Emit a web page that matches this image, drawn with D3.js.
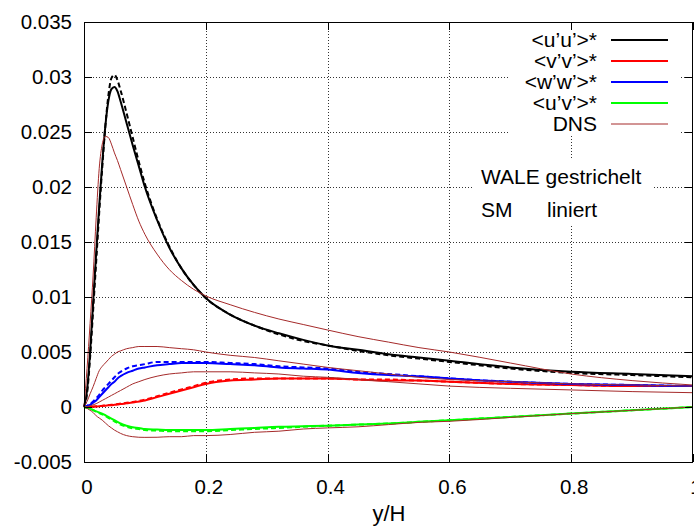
<!DOCTYPE html>
<html><head><meta charset="utf-8">
<script src="https://cdn.jsdelivr.net/npm/d3@7"></script>
<style>body{margin:0;background:#fff}svg{display:block}text{font-family:"Liberation Sans",Arial,sans-serif;fill:#000}</style>
</head><body><svg id="c" width="694" height="527"></svg>
<script>
const xs = [0,0.005,0.01,0.015,0.02,0.025,0.03,0.035,0.04,0.045,0.05,0.055,0.06,0.07,0.08,0.09,0.1,0.12,0.14,0.16,0.18,0.2,0.24,0.28,0.32,0.36,0.4,0.45,0.5,0.55,0.6,0.7,0.8,0.9,1.0];
const smUU = [0,0.0015,0.0050,0.0095,0.0140,0.0183,0.0222,0.0255,0.0278,0.0289,0.0291,0.0287,0.0278,0.0258,0.0238,0.0219,0.0200,0.0170,0.0145,0.0126,0.0111,0.0099,0.0084,0.0074,0.0067,0.0061,0.0056,0.0052,0.0048,0.0045,0.0042,0.0036,0.0032,0.0030,0.0028];
const waleUU = [0,0.0012,0.0045,0.0088,0.0132,0.0177,0.0218,0.0255,0.0283,0.0299,0.0302,0.0297,0.0288,0.0267,0.0245,0.0223,0.0203,0.0171,0.0146,0.0126,0.0111,0.0099,0.0084,0.0074,0.0066,0.0060,0.0056,0.0051,0.0047,0.0044,0.0041,0.0035,0.0031,0.0029,0.0027];
const dnsUU = [0,0.0035,0.0076,0.0120,0.0172,0.0217,0.0239,0.0246,0.0245,0.0239,0.0231,0.0224,0.0216,0.0200,0.0184,0.0169,0.0157,0.0139,0.0125,0.0115,0.0107,0.0101,0.0093,0.0086,0.0080,0.0075,0.0070,0.0064,0.0059,0.0054,0.0050,0.0040,0.0030,0.0024,0.0020];
const smVV = [0,0.00001,0.00002,0.00003,0.00005,0.00007,0.0001,0.00012,0.00015,0.00017,0.0002,0.00023,0.00027,0.00033,0.0004,0.0005,0.0006,0.0009,0.0012,0.0015,0.0018,0.0021,0.0024,0.0025,0.0026,0.0026,0.0026,0.0025,0.0024,0.0024,0.0023,0.0021,0.0020,0.0019,0.0019];
const waleVV = [0,0.00001,0.00002,0.00004,0.00006,0.00008,0.00011,0.00014,0.00017,0.0002,0.00023,0.00027,0.00031,0.00038,0.00046,0.00056,0.00067,0.00097,0.0013,0.0016,0.0019,0.0022,0.0025,0.0026,0.0026,0.0026,0.0026,0.0025,0.0025,0.0024,0.0023,0.0021,0.0020,0.0019,0.0019];
const dnsVV = [0,0.00003,0.0001,0.0002,0.0003,0.00045,0.0006,0.00075,0.0009,0.00105,0.0012,0.00135,0.0015,0.0018,0.0021,0.0023,0.0025,0.0028,0.0030,0.0031,0.0032,0.0032,0.0032,0.0031,0.0030,0.0028,0.0027,0.0025,0.0023,0.0021,0.0019,0.0017,0.00155,0.0014,0.0013];
const smWW = [0,0.0001,0.0002,0.0004,0.0006,0.0009,0.0012,0.0015,0.0018,0.0021,0.0023,0.0026,0.0028,0.0031,0.0033,0.0035,0.0036,0.0038,0.0039,0.0040,0.0040,0.0040,0.0039,0.0038,0.0036,0.0035,0.0034,0.0031,0.0029,0.0028,0.0026,0.0023,0.0021,0.0020,0.0019];
const waleWW = [0,0.0001,0.0003,0.0005,0.0008,0.0011,0.0015,0.0018,0.0021,0.0024,0.0027,0.0030,0.0032,0.0035,0.0037,0.0038,0.0039,0.0041,0.0041,0.0041,0.0041,0.0041,0.0040,0.0039,0.0037,0.0036,0.0035,0.0032,0.0030,0.0028,0.0026,0.0023,0.0021,0.0020,0.0019];
const dnsWW = [0,0.0005,0.0012,0.00185,0.0026,0.0033,0.0037,0.0040,0.0043,0.0046,0.0048,0.0050,0.0051,0.0053,0.0054,0.0055,0.0055,0.0055,0.0054,0.0053,0.0052,0.0050,0.0047,0.0045,0.0042,0.0039,0.0036,0.0033,0.0030,0.0027,0.0025,0.0023,0.0021,0.0020,0.0019];
const smUV = [0,-0.00007,-0.00015,-0.00027,-0.0004,-0.0005,-0.0006,-0.00075,-0.0009,-0.00105,-0.0012,-0.00135,-0.0015,-0.0017,-0.00185,-0.0019,-0.0020,-0.00205,-0.0021,-0.0021,-0.0021,-0.0021,-0.0020,-0.0019,-0.0018,-0.00175,-0.0017,-0.0016,-0.0015,-0.00135,-0.0012,-0.0009,-0.0006,-0.0003,0];
const waleUV = [0,-0.00007,-0.00016,-0.00029,-0.00043,-0.00055,-0.00067,-0.00082,-0.00098,-0.00114,-0.0013,-0.00145,-0.0016,-0.0018,-0.00195,-0.0020,-0.0021,-0.00215,-0.0022,-0.0022,-0.0022,-0.0022,-0.0021,-0.0020,-0.0019,-0.0018,-0.0017,-0.0016,-0.0015,-0.00135,-0.0012,-0.0009,-0.0006,-0.0003,0];
const dnsUV = [0,-0.00012,-0.0003,-0.0005,-0.0008,-0.001,-0.0012,-0.00145,-0.0017,-0.0019,-0.0021,-0.00225,-0.0024,-0.0026,-0.0027,-0.00275,-0.00276,-0.00275,-0.0027,-0.0027,-0.0026,-0.0026,-0.0025,-0.0023,-0.0022,-0.0020,-0.0019,-0.0018,-0.0016,-0.0014,-0.0013,-0.00095,-0.0006,-0.0003,0];

const xTicks = [0,0.2,0.4,0.6,0.8,1];
const xTickLabels = ["0","0.2","0.4","0.6","0.8","1"];
const yTicks = [-0.005,0,0.005,0.01,0.015,0.02,0.025,0.03,0.035];
const yTickLabels = ["-0.005","0","0.005","0.01","0.015","0.02","0.025","0.03","0.035"];
const legendLabels = ["<u\u2019u\u2019>*","<v\u2019v\u2019>*","<w\u2019w\u2019>*","<u\u2019v\u2019>*","DNS"];
const legendColors = ["#000000","#ff0000","#0000ff","#00ff00","#a52a2a"];
const xTitle = "y/H";

const svg = d3.select("#c");
const L=84, R=693, T=22, B=462;
const x = d3.scaleLinear().domain([0,1]).range([L,R]);
const y = d3.scaleLinear().domain([-0.005,0.035]).range([B,T]);

// grid
const g = svg.append("g");
g.selectAll(".gx").data(xTicks.slice(1,-1)).join("line")
  .attr("x1",d=>Math.round(x(d))+0.5).attr("x2",d=>Math.round(x(d))+0.5).attr("y1",T).attr("y2",B)
  .attr("stroke","#333").attr("stroke-width",1).attr("stroke-dasharray","1,2");
g.selectAll(".gy").data(yTicks.slice(1,-1)).join("line")
  .attr("y1",d=>Math.round(y(d))+0.5).attr("y2",d=>Math.round(y(d))+0.5).attr("x1",L).attr("x2",R)
  .attr("stroke","#333").attr("stroke-width",1).attr("stroke-dasharray","1,2");

// curves
const line = d3.line().x(d=>x(d[0])).y(d=>y(d[1])).curve(d3.curveMonotoneX);
const series = [
  {v:smUU,c:"#000000",w:2,dash:null},
  {v:waleUU,c:"#000000",w:2,dash:"5,3"},
  {v:smVV,c:"#ff0000",w:2,dash:null},
  {v:waleVV,c:"#ff0000",w:2,dash:"5,3"},
  {v:smWW,c:"#0000ff",w:2,dash:null},
  {v:waleWW,c:"#0000ff",w:2,dash:"5,3"},
  {v:smUV,c:"#00ff00",w:2,dash:null},
  {v:waleUV,c:"#00ff00",w:2,dash:"5,3"},
  {v:dnsUU,c:"#a52a2a",w:1,dash:null},
  {v:dnsVV,c:"#a52a2a",w:1,dash:null},
  {v:dnsWW,c:"#a52a2a",w:1,dash:null},
  {v:dnsUV,c:"#a52a2a",w:1,dash:null}
];
const cg = svg.append("g");
series.forEach(s=>{
  cg.append("path").datum(xs.map((xx,i)=>[xx,s.v[i]]))
    .attr("d",line).attr("fill","none").attr("stroke",s.c).attr("stroke-width",s.w)
    .attr("stroke-dasharray",s.dash).attr("stroke-linejoin","round");
});

// legend box (opaque)
svg.append("rect").attr("x",508).attr("y",T+1).attr("width",173).attr("height",111).attr("fill","#fff");
svg.append("rect").attr("x",474).attr("y",158).attr("width",179).attr("height",66).attr("fill","#fff");
const lg = svg.append("g");
legendLabels.forEach((t,i)=>{
  const yy = 40 + i*21;
  lg.append("text").attr("x",597).attr("y",yy).attr("dy","0.35em").attr("text-anchor","end").attr("font-size",21).text(t);
  lg.append("line").attr("x1",611).attr("x2",668).attr("y1",yy).attr("y2",yy).attr("stroke",legendColors[i]).attr("stroke-width",i==4?1:2);
});
svg.append("text").attr("x",481).attr("y",177).attr("dy","0.35em").attr("font-size",21).text("WALE gestrichelt");
svg.append("text").attr("x",481).attr("y",210).attr("dy","0.35em").attr("font-size",21).text("SM");
svg.append("text").attr("x",547).attr("y",210).attr("dy","0.35em").attr("font-size",21).text("liniert");

// border
svg.append("rect").attr("x",L+0.5).attr("y",T+0.5).attr("width",R-L-1).attr("height",B-T).attr("fill","none").attr("stroke","#000").attr("stroke-width",1);

// ticks (mirrored, inward)
const tk = svg.append("g").attr("stroke","#000").attr("stroke-width",1);
yTicks.forEach(d=>{
  const yy = Math.round(y(d))+0.5;
  tk.append("line").attr("x1",L).attr("x2",L+8).attr("y1",yy).attr("y2",yy);
  tk.append("line").attr("x1",R-8).attr("x2",R).attr("y1",yy).attr("y2",yy);
});
xTicks.forEach(d=>{
  const xx = Math.round(x(d))+0.5;
  tk.append("line").attr("x1",xx).attr("x2",xx).attr("y1",B).attr("y2",B-8);
  tk.append("line").attr("x1",xx).attr("x2",xx).attr("y1",T).attr("y2",T+8);
});

// tick labels
svg.append("g").selectAll("text").data(yTicks).join("text")
  .attr("x",72).attr("y",d=>y(d)).attr("dy","0.35em").attr("text-anchor","end").attr("font-size",20.5)
  .text((d,i)=>yTickLabels[i]);
svg.append("g").selectAll("text").data(xTicks).join("text")
  .attr("x",d=>x(d)+3).attr("y",487).attr("dy","0.35em").attr("text-anchor","middle").attr("font-size",20.5)
  .text((d,i)=>xTickLabels[i]);
svg.append("text").attr("x",389).attr("y",513).attr("dy","0.35em").attr("text-anchor","middle").attr("font-size",22).text(xTitle);
</script></body></html>
